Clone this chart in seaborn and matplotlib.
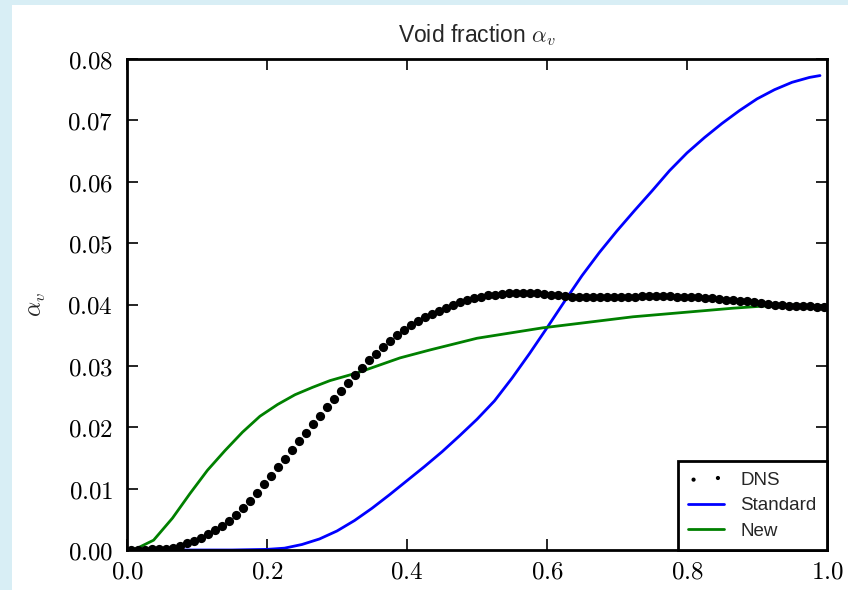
import matplotlib
matplotlib.use("Agg")
import matplotlib.pyplot as plt
from matplotlib.patches import Rectangle
import seaborn as sns
import pandas as pd

# ---------------- data ----------------
dns_x = [0.005, 0.015, 0.025, 0.035, 0.045, 0.055, 0.065, 0.075, 0.085, 0.095,
         0.105, 0.115, 0.125, 0.135, 0.145, 0.155, 0.165, 0.175, 0.185, 0.195,
         0.205, 0.215, 0.225, 0.235, 0.245, 0.255, 0.265, 0.275, 0.285, 0.295,
         0.305, 0.315, 0.325, 0.335, 0.345, 0.355, 0.365, 0.375, 0.385, 0.395,
         0.405, 0.415, 0.425, 0.435, 0.445, 0.455, 0.465, 0.475, 0.485, 0.495,
         0.505, 0.515, 0.525, 0.535, 0.545, 0.555, 0.565, 0.575, 0.585, 0.595,
         0.605, 0.615, 0.625, 0.635, 0.645, 0.655, 0.665, 0.675, 0.685, 0.695,
         0.705, 0.715, 0.725, 0.735, 0.745, 0.755, 0.765, 0.775, 0.785, 0.795,
         0.805, 0.815, 0.825, 0.835, 0.845, 0.855, 0.865, 0.875, 0.885, 0.895,
         0.905, 0.915, 0.925, 0.935, 0.945, 0.955, 0.965, 0.975, 0.985, 0.995]
dns_y = [0.0000, 0.0000, 0.0000, 0.0001, 0.0001, 0.0002, 0.0004, 0.0007, 0.0011, 0.0015,
         0.0020, 0.0026, 0.0032, 0.0039, 0.0047, 0.0057, 0.0068, 0.0080, 0.0093, 0.0107,
         0.0121, 0.0135, 0.0149, 0.0163, 0.0177, 0.0191, 0.0205, 0.0219, 0.0233, 0.0246,
         0.0259, 0.0272, 0.0285, 0.0297, 0.0309, 0.0320, 0.0331, 0.0341, 0.0350, 0.0358,
         0.0366, 0.0373, 0.0379, 0.0385, 0.0390, 0.0395, 0.0400, 0.0404, 0.0408, 0.0411,
         0.0413, 0.0415, 0.0416, 0.0417, 0.0418, 0.0419, 0.0419, 0.0419, 0.0418, 0.0417,
         0.0416, 0.0415, 0.0414, 0.0413, 0.0413, 0.0412, 0.0412, 0.0412, 0.0412, 0.0412,
         0.0413, 0.0413, 0.0413, 0.0414, 0.0414, 0.0414, 0.0414, 0.0414, 0.0413, 0.0413,
         0.0412, 0.0412, 0.0411, 0.0410, 0.0409, 0.0408, 0.0407, 0.0406, 0.0405, 0.0404,
         0.0403, 0.0401, 0.0400, 0.0399, 0.0398, 0.0398, 0.0397, 0.0397, 0.0396, 0.0396]

std_x = [0.0, 0.05, 0.1, 0.15, 0.2, 0.225, 0.25, 0.275, 0.3, 0.325, 0.35, 0.375,
         0.4, 0.425, 0.45, 0.475, 0.5, 0.525, 0.55, 0.575, 0.6, 0.625, 0.65, 0.675,
         0.7, 0.725, 0.75, 0.775, 0.8, 0.825, 0.85, 0.875, 0.9, 0.925, 0.95, 0.975, 0.99]
std_y = [0.0, 0.0, 0.0, 0.0, 0.0001, 0.0003, 0.0009, 0.0018, 0.0031, 0.0048, 0.0068, 0.0090,
         0.0113, 0.0136, 0.0160, 0.0186, 0.0213, 0.0243, 0.0280, 0.0320, 0.0362, 0.0405, 0.0447, 0.0485,
         0.0520, 0.0553, 0.0585, 0.0618, 0.0647, 0.0672, 0.0695, 0.0716, 0.0735, 0.0750, 0.0762, 0.0770, 0.0773]

new_x = [0.0, 0.013, 0.038, 0.065, 0.09, 0.115, 0.14, 0.165, 0.19, 0.215, 0.24, 0.265,
         0.29, 0.33, 0.39, 0.433, 0.5, 0.594, 0.723, 0.866, 0.929, 0.96, 1.0]
new_y = [0.0, 0.0002, 0.0016, 0.0052, 0.0092, 0.0130, 0.0162, 0.0192, 0.0218, 0.0237, 0.0253, 0.0265,
         0.0276, 0.0289, 0.0313, 0.0326, 0.0345, 0.0362, 0.0380, 0.0394, 0.0399, 0.0399, 0.0397]

x_ticks = [0.0, 0.2, 0.4, 0.6, 0.8, 1.0]
x_tick_labels = ["0.0", "0.2", "0.4", "0.6", "0.8", "1.0"]
y_ticks = [0.00, 0.01, 0.02, 0.03, 0.04, 0.05, 0.06, 0.07, 0.08]
y_tick_labels = ["0.00", "0.01", "0.02", "0.03", "0.04", "0.05", "0.06", "0.07", "0.08"]

title_text = r"Void fraction $\alpha_v$"
ylabel_text = r"$\alpha_v$"
series_names = ["DNS", "Standard", "New"]

# ---------------- style ----------------
sns.set_theme(style="ticks")
plt.rcParams["font.family"] = ["Liberation Sans", "DejaVu Sans"]
plt.rcParams["mathtext.fontset"] = "cm"

fig = plt.figure(figsize=(8.48, 5.90), dpi=100)
fig.patch.set_facecolor("#d8eef5")
fig.add_artist(Rectangle((12 / 848, 0), 1.0, 1 - 5 / 590, transform=fig.transFigure,
                         facecolor="white", edgecolor="none", zorder=-10))
ax = fig.add_axes([127 / 848, 1 - 550 / 590, 700 / 848, 491 / 590])
ax.set_facecolor("white")

df_dns = pd.DataFrame({"x": dns_x, "y": dns_y})
df_std = pd.DataFrame({"x": std_x, "y": std_y})
df_new = pd.DataFrame({"x": new_x, "y": new_y})

sns.scatterplot(data=df_dns, x="x", y="y", ax=ax, color="black", s=44,
                linewidth=0, label=series_names[0], zorder=3)
sns.lineplot(data=df_std, x="x", y="y", ax=ax, color="#0000ff", lw=2.0,
             estimator=None, sort=False, label=series_names[1])
sns.lineplot(data=df_new, x="x", y="y", ax=ax, color="#008000", lw=2.0,
             estimator=None, sort=False, label=series_names[2])

ax.set_xlim(0, 1)
ax.set_ylim(0, 0.08)
ax.set_xticks(x_ticks, labels=[f"${t}$" for t in x_tick_labels])
ax.set_yticks(y_ticks, labels=[f"${t}$" for t in y_tick_labels])
ax.tick_params(direction="in", length=8, width=1.2, colors="black",
               top=True, right=True, labelsize=18)
ax.tick_params(axis="x", pad=7)
ax.tick_params(axis="y", pad=10)
for sp in ax.spines.values():
    sp.set_visible(True)
    sp.set_linewidth(2.0)
    sp.set_color("black")

ax.set_xlabel("")
ax.set_ylabel(ylabel_text, fontsize=17, labelpad=14)
ax.set_title(title_text, fontsize=16.5, pad=12)

leg = ax.legend(loc="lower right", borderaxespad=0, fancybox=False,
                scatterpoints=2, markerscale=0.45, fontsize=13.5,
                frameon=True, handlelength=1.9, handletextpad=0.9,
                borderpad=0.55, labelspacing=0.45)
leg.get_frame().set_edgecolor("black")
leg.get_frame().set_linewidth(2.0)
leg.get_frame().set_alpha(1)

fig.savefig("out.png", dpi=100, facecolor=fig.get_facecolor())
